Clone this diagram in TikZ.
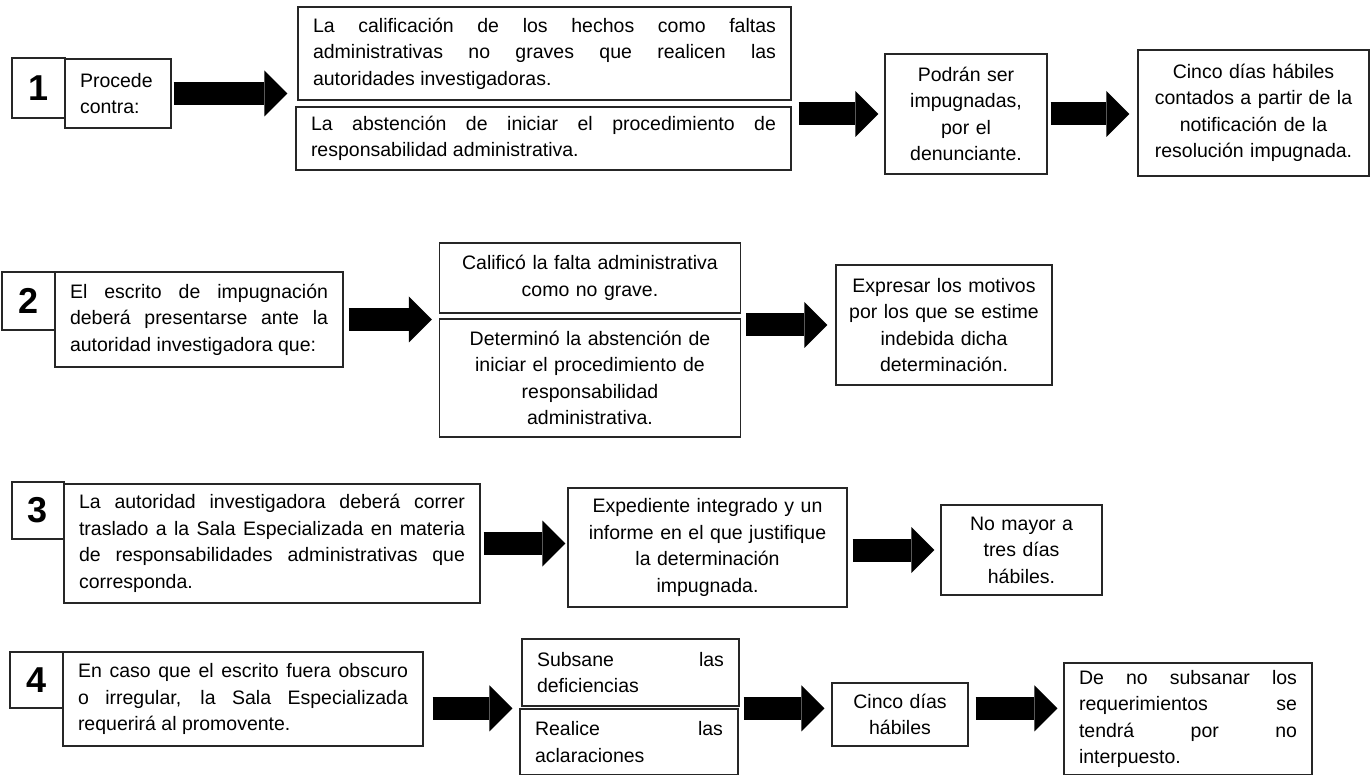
\documentclass[tikz,border=0pt]{standalone}
\usepackage{fontspec}
\setmainfont{Liberation Sans}
\usetikzlibrary{arrows.meta}

\tikzset{
	caja/.style={draw=black!85, line width=1.2pt, inner xsep=15pt, inner ysep=0pt, font=\fontsize{19.5}{26.5}\selectfont},
	num/.style={draw=black!85, line width=1.2pt, inner sep=0pt, font=\fontsize{36}{36}\selectfont\bfseries},
	flecha/.style={line width=23pt, -{Triangle[length=23pt,width=46pt,line width=0pt]}}
}

\begin{document}
\begin{tikzpicture}[x=1pt,y=-1pt]
				\useasboundingbox[fill=white] (0,0) rectangle (1371,775);
				
				\node[num, minimum width=53pt, minimum height=60pt] (n1) at (38.5,88) {1};
				\node[caja, align=left, text width=76pt, minimum height=69pt] (p1) at (118,93.5) {Procede\\contra:};
				\node[caja, align=justify, text width=463pt, minimum height=93pt] (a1) at (544.5,53.5) {La calificación de los hechos como faltas\linebreak administrativas no graves que realicen las\linebreak autoridades investigadoras.};
				\node[caja, align=justify, text width=465pt, minimum height=63pt] (a2) at (543.5,138.5) {La abstención de iniciar el procedimiento de\linebreak responsabilidad administrativa.};
				\node[caja, align=center, text width=132pt, minimum height=120pt] (b1) at (966,114) {Podrán ser\\impugnadas,\\por el\\denunciante.};
				\node[caja, align=center, text width=201pt, minimum height=126pt] (c1) at (1253.5,113) {Cinco días hábiles\\contados a partir de la\\notificación de la\\resolución impugnada.};
				\draw[flecha, shorten <=2pt, shorten >=10pt] (p1.east) -- (p1.east -| a1.west);
				\draw[flecha, shorten <=7pt, shorten >=6pt] (a2.east |- b1.west) -- (b1.west);
				\draw[flecha, shorten <=3pt, shorten >=8pt] (b1.east) -- (b1.east -| c1.west);
				
				\node[num, minimum width=53pt, minimum height=58pt] (n2) at (28.5,301) {2};
				\node[caja, align=justify, text width=258pt, minimum height=95pt] (p2) at (199,319.5) {El escrito de impugnación\linebreak deberá presentarse ante la\linebreak autoridad investigadora que:};
				\node[caja, align=center, text width=271pt, minimum height=70pt] (e1) at (590,278) {Calificó la falta administrativa\\como no grave.};
				\node[caja, align=center, text width=271pt, minimum height=118pt] (e2) at (590,378) {Determinó la abstención de\\iniciar el procedimiento de\\responsabilidad\\administrativa.};
				\node[caja, align=center, inner xsep=8pt, text width=200pt, minimum height=120pt] (g2) at (944,325) {Expresar los motivos\\por los que se estime\\indebida dicha\\determinación.};
				\draw[flecha, shorten <=5pt, shorten >=7pt] (p2.east) -- (p2.east -| e1.west);
				\draw[flecha, shorten <=5pt, shorten >=8pt] (e1.east |- g2.west) -- (g2.west);
				
				\node[num, minimum width=52pt, minimum height=57pt] (n3) at (38,510.5) {3};
				\node[caja, align=justify, text width=386pt, minimum height=119pt] (p3) at (272,543.5) {La autoridad investigadora deberá correr\linebreak traslado a la Sala Especializada en materia\linebreak de responsabilidades administrativas que\linebreak corresponda.};
				\node[caja, align=center, text width=249pt, minimum height=119pt] (f3) at (707.5,547.5) {Expediente integrado y un\\informe en el que justifique\\la determinación\\impugnada.};
				\node[caja, align=center, text width=131pt, minimum height=90pt] (g3) at (1021.5,550) {No mayor a\\tres días\\hábiles.};
				\draw[flecha, shorten <=3pt, shorten >=2pt] (p3.east) -- (p3.east -| f3.west);
				\draw[flecha, shorten <=5pt, shorten >=6pt] (f3.east |- g3.west) -- (g3.west);
				
				\node[num, minimum width=53pt, minimum height=56pt] (n4) at (36.5,680) {4};
				\node[caja, align=justify, text width=330pt, minimum height=94pt] (p4) at (243,699) {En caso que el escrito fuera obscuro\linebreak o irregular, la Sala Especializada\linebreak requerirá al promovente.};
				\node[caja, align=justify, text width=187pt, minimum height=67pt] (h1) at (630.5,672.5) {Subsane las\linebreak deficiencias};
				\node[caja, align=justify, text width=188pt, minimum height=66pt] (h2) at (629,742) {Realice las\linebreak aclaraciones};
				\node[caja, align=center, text width=106pt, minimum height=63pt] (k4) at (900,714.5) {Cinco días\\hábiles};
				\node[caja, align=justify, text width=218pt, minimum height=112pt] (m4) at (1188,719) {De no subsanar los\linebreak requerimientos se\linebreak tendrá por no\linebreak interpuesto.};
				\draw[flecha, shorten <=9pt, shorten >=7pt] (p4.east |- h2.north) -- (h2.north -| h2.west);
				\draw[flecha, shorten <=5pt, shorten >=7pt] (h2.north east) -- (h2.north east -| k4.west);
				\draw[flecha, shorten <=7pt, shorten >=6pt] (h2.north -| k4.east) -- (h2.north -| m4.west);
			\end{tikzpicture}
\end{document}
